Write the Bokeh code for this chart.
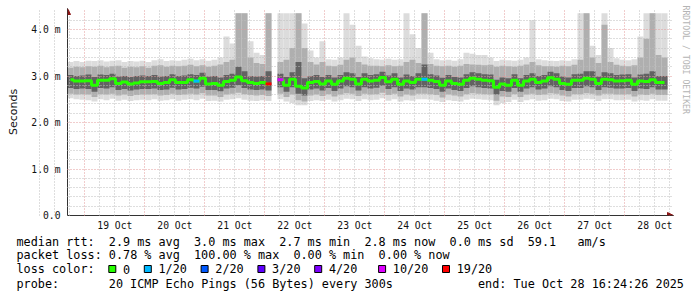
import re
from datetime import datetime, timedelta

from bokeh.plotting import figure
from bokeh.models import (Range1d, FixedTicker, DatetimeTickFormatter, Arrow,
                          NormalHead, Label, Title, ColumnDataSource)
from bokeh.layouts import column
from bokeh.embed import file_html
from bokeh.resources import INLINE

NaN = float("nan")

# ---------------- data ----------------
start = datetime(2025, 10, 18, 17, 4, 48)
bin_hours = 2.4

# median rtt per bin (ms)
med = [
    2.92, 2.89, 2.89, 2.90, 2.80, 2.91, 2.91, 2.94, 2.84, 2.87,
    2.83, 2.85, 2.875, 2.875, 2.88, 2.84, 2.86, 2.92, 2.86, 2.86,
    2.92, 2.89, 2.95, 2.83, 2.84, 2.80, 2.88, 2.91, 2.98, 2.90,
    2.86, 2.84, 2.86, 2.83, NaN, 2.92, 2.80, 2.93, 2.78, 2.74,
    2.86, 2.88, 2.83, 2.89, 2.82, 2.89, 2.95, 2.93, 2.83, 2.93,
    2.89, 2.91, 2.97, 2.875, 2.93, 2.82, 2.89, 2.86, 2.93, 2.93,
    2.91, 2.88, 2.80, 2.89, 2.84, 2.82, 2.91, 2.95, 2.93, 2.91,
    2.90, 2.76, 2.83, 2.80, 2.91, 2.80, 2.89, 2.93, 2.86, 2.89,
    2.96, 2.93, 2.84, 2.82, 2.91, 2.91, 2.95, 2.93, 2.84, 2.93,
    2.92, 2.89, 2.90, 2.91, 2.82, 2.89, 2.88, 2.92, 2.86, 2.86,
]

# lost pings (of 20) per bin
loss = [
    0, 0, 0, 0, 0, 0, 0, 0, 0, 0,
    0, 0, 0, 0, 0, 0, 0, 0, 0, 0,
    0, 1, 0, 0, 0, 0, 0, 0, 0, 0,
    0, 0, 0, 19, 0, 10, 0, 0, 0, 0,
    0, 0, 0, 0, 0, 0, 0, 0, 0, 0,
    0, 0, 0, 0, 0, 0, 0, 0, 0, 1,
    0, 0, 0, 0, 0, 0, 0, 0, 0, 0,
    0, 0, 0, 0, 0, 0, 0, 0, 0, 0,
    0, 0, 0, 0, 0, 0, 0, 0, 0, 0,
    0, 0, 0, 0, 0, 0, 0, 0, 0, 0,
]

# smoke: outer (min / max ping)
smoke_lo1 = [
    2.52, 2.50, 2.49, 2.48, 2.45, 2.50, 2.48, 2.51, 2.47, 2.49,
    2.46, 2.48, 2.49, 2.48, 2.50, 2.47, 2.48, 2.50, 2.47, 2.49,
    2.50, 2.48, 2.51, 2.46, 2.47, 2.45, 2.49, 2.50, 2.52, 2.49,
    2.47, 2.46, 2.48, 2.46, NaN, 2.50, 2.45, 2.42, 2.37, 2.37,
    2.46, 2.48, 2.46, 2.49, 2.45, 2.48, 2.51, 2.50, 2.46, 2.50,
    2.48, 2.49, 2.52, 2.47, 2.50, 2.45, 2.48, 2.47, 2.50, 2.50,
    2.49, 2.47, 2.44, 2.48, 2.46, 2.45, 2.49, 2.51, 2.50, 2.49,
    2.48, 2.37, 2.42, 2.44, 2.49, 2.44, 2.48, 2.50, 2.47, 2.48,
    2.51, 2.50, 2.46, 2.45, 2.49, 2.49, 2.51, 2.50, 2.46, 2.50,
    2.50, 2.48, 2.48, 2.49, 2.45, 2.48, 2.47, 2.50, 2.47, 2.47,
]
smoke_hi1 = [
    3.30, 3.32, 3.30, 3.33, 3.32, 3.34, 3.31, 3.33, 3.34, 3.30,
    3.32, 3.31, 3.33, 3.30, 3.34, 3.36, 3.32, 3.34, 3.33, 3.35,
    3.37, 3.34, 3.36, 3.33, 3.35, 3.40, 3.85, 3.70, 4.35, 4.35,
    3.75, 3.50, 3.45, 4.35, NaN, 4.35, 4.35, 4.35, 4.35, 4.13,
    3.55, 3.40, 3.75, 3.36, 3.35, 3.40, 4.35, 4.10, 3.65, 3.42,
    3.38, 3.36, 3.35, 3.37, 3.35, 3.36, 4.35, 3.90, 3.60, 4.35,
    3.50, 3.36, 3.34, 3.35, 3.33, 3.36, 3.50, 3.48, 3.45, 3.45,
    3.40, 3.32, 3.35, 3.34, 3.33, 3.35, 3.40, 4.20, 3.36, 3.34,
    3.33, 3.32, 3.34, 3.33, 3.36, 4.35, 4.35, 3.65, 3.45, 4.35,
    3.60, 3.38, 3.35, 3.34, 3.36, 3.85, 4.35, 4.35, 4.35, 4.35,
]
# smoke: middle layer
smoke_lo2 = [
    2.62, 2.60, 2.61, 2.60, 2.55, 2.61, 2.60, 2.62, 2.58, 2.60,
    2.57, 2.59, 2.60, 2.60, 2.61, 2.58, 2.59, 2.62, 2.59, 2.60,
    2.62, 2.60, 2.63, 2.58, 2.58, 2.55, 2.60, 2.62, 2.64, 2.61,
    2.59, 2.58, 2.59, 2.57, NaN, 2.62, 2.55, 2.60, 2.48, 2.45,
    2.58, 2.60, 2.57, 2.61, 2.56, 2.60, 2.63, 2.62, 2.57, 2.62,
    2.60, 2.61, 2.64, 2.59, 2.62, 2.56, 2.60, 2.58, 2.62, 2.62,
    2.61, 2.59, 2.54, 2.60, 2.58, 2.56, 2.61, 2.63, 2.62, 2.61,
    2.60, 2.47, 2.56, 2.55, 2.61, 2.55, 2.60, 2.62, 2.59, 2.60,
    2.63, 2.62, 2.58, 2.56, 2.61, 2.61, 2.63, 2.62, 2.58, 2.62,
    2.62, 2.60, 2.60, 2.61, 2.56, 2.60, 2.59, 2.62, 2.59, 2.59,
]
smoke_hi2 = [
    3.18, 3.20, 3.19, 3.21, 3.20, 3.22, 3.19, 3.21, 3.22, 3.18,
    3.20, 3.19, 3.21, 3.18, 3.22, 3.23, 3.20, 3.22, 3.21, 3.22,
    3.24, 3.21, 3.23, 3.20, 3.22, 3.25, 3.30, 3.35, 4.35, 4.35,
    3.40, 3.28, 3.26, 4.35, NaN, 3.30, 3.35, 3.60, 4.35, 3.60,
    3.30, 3.25, 3.30, 3.22, 3.21, 3.24, 3.35, 3.40, 3.30, 3.25,
    3.22, 3.22, 3.21, 3.23, 3.21, 3.22, 3.30, 3.35, 3.28, 4.35,
    3.26, 3.22, 3.21, 3.22, 3.20, 3.22, 3.26, 3.25, 3.24, 3.23,
    3.24, 3.20, 3.22, 3.21, 3.20, 3.22, 3.25, 3.30, 3.23, 3.21,
    3.21, 3.20, 3.22, 3.21, 3.24, 3.35, 4.35, 3.40, 3.28, 4.10,
    3.30, 3.24, 3.22, 3.21, 3.23, 3.40, 3.80, 4.35, 3.45, 3.40,
]
# smoke: dark core
smoke_lo3 = [
    2.74, 2.72, 2.73, 2.72, 2.66, 2.74, 2.73, 2.76, 2.70, 2.72,
    2.69, 2.71, 2.72, 2.72, 2.73, 2.70, 2.71, 2.75, 2.71, 2.72,
    2.75, 2.73, 2.77, 2.70, 2.70, 2.67, 2.73, 2.75, 2.80, 2.74,
    2.71, 2.70, 2.71, 2.69, NaN, 2.76, 2.66, 2.76, 2.62, 2.58,
    2.71, 2.73, 2.69, 2.74, 2.68, 2.73, 2.78, 2.76, 2.69, 2.76,
    2.73, 2.75, 2.79, 2.72, 2.76, 2.68, 2.73, 2.71, 2.76, 2.76,
    2.74, 2.72, 2.66, 2.73, 2.70, 2.68, 2.74, 2.78, 2.76, 2.74,
    2.73, 2.60, 2.68, 2.66, 2.74, 2.66, 2.73, 2.76, 2.71, 2.73,
    2.78, 2.76, 2.70, 2.68, 2.74, 2.74, 2.78, 2.76, 2.70, 2.76,
    2.75, 2.73, 2.73, 2.74, 2.68, 2.73, 2.72, 2.76, 2.71, 2.71,
]
smoke_hi3 = [
    3.02, 3.00, 3.01, 3.03, 2.98, 3.03, 3.02, 3.05, 2.99, 3.00,
    2.98, 3.00, 3.01, 3.00, 3.02, 2.99, 3.00, 3.04, 3.00, 3.01,
    3.04, 3.02, 3.07, 2.99, 3.00, 2.97, 3.02, 3.05, 3.20, 3.10,
    3.00, 2.99, 3.00, 3.10, NaN, 3.05, 2.98, 3.08, 3.30, 2.95,
    3.00, 3.02, 2.98, 3.02, 2.97, 3.02, 3.08, 3.06, 2.98, 3.06,
    3.02, 3.04, 3.09, 3.01, 3.06, 2.97, 3.03, 3.00, 3.06, 3.25,
    3.04, 3.01, 2.96, 3.02, 2.98, 2.97, 3.04, 3.08, 3.06, 3.04,
    3.03, 2.92, 2.97, 2.95, 3.04, 2.95, 3.02, 3.06, 3.00, 3.02,
    3.09, 3.06, 2.99, 2.97, 3.04, 3.05, 3.10, 3.10, 2.99, 3.08,
    3.06, 3.02, 3.03, 3.04, 2.97, 3.03, 3.05, 3.10, 3.00, 3.00,
]

y_ticks = [0, 1, 2, 3, 4]
y_tick_labels = ["0.0", "1.0 m", "2.0 m", "3.0 m", "4.0 m"]
day_label_days = [19, 20, 21, 22, 23, 24, 25, 26, 27, 28]

loss_levels = [0, 1, 2, 3, 4, 10, 19]
loss_legend_labels = ["0", "1/20", "2/20", "3/20", "4/20", "10/20", "19/20"]
loss_colors = ["#26ff00", "#00b8ff", "#0059ff", "#5e00ff", "#7e00ff", "#dd00ff", "#ff0000"]

rtt_avg, rtt_max, rtt_min, rtt_now, rtt_sd, rtt_amps = 2.9, 3.0, 2.7, 2.8, 0.0, 59.1
loss_avg, loss_max, loss_min, loss_now = 0.78, 100.00, 0.00, 0.00
probe_text = "20 ICMP Echo Pings (56 Bytes) every 300s"
end_text = "end: Tue Oct 28 16:24:26 2025"
watermark = "RRDTOOL / TOBI OETIKER"

# ---------------- helpers / layout ----------------
EPOCH = datetime(1970, 1, 1)


def ms(dt):
    return (dt - EPOCH).total_seconds() * 1000.0


PX_PER_DAY = 60.0
PX_PER_MS = 46.5
FRAME_LEFT, FRAME_RIGHT, FRAME_TOP, FRAME_BOTTOM = 67, 673, 8, 215
MAIN_H = 234
Y_TOP = (FRAME_BOTTOM - FRAME_TOP) / PX_PER_MS
t0 = start
t_end = start + timedelta(days=(FRAME_RIGHT - FRAME_LEFT) / PX_PER_DAY)


def px_to_x(px):
    return ms(t0 + timedelta(days=(px - FRAME_LEFT) / PX_PER_DAY))


def py_to_y(py):
    return (FRAME_BOTTOM - py) / PX_PER_MS


n = len(med)
step = timedelta(hours=bin_hours)
lefts = [start + i * step for i in range(n)]
rights = [l + step for l in lefts]
centers = [l + step / 2 for l in lefts]

AXIS_C = "#333333"
ARROW_C = "#8b1414"
MONO = "DejaVu Sans Mono"

# ---------------- main plot ----------------
p = figure(width=697, height=MAIN_H, x_axis_type="datetime",
           x_range=Range1d(t0, t_end), y_range=Range1d(0, Y_TOP),
           toolbar_location=None, output_backend="svg",
           min_border_left=FRAME_LEFT, min_border_right=697 - FRAME_RIGHT,
           min_border_top=FRAME_TOP, min_border_bottom=MAIN_H - FRAME_BOTTOM)
p.background_fill_color = "white"
p.border_fill_color = "white"
p.outline_line_color = None

src = ColumnDataSource(dict(left=lefts, right=rights, center=centers, med=med,
                            lo1=smoke_lo1, hi1=smoke_hi1, lo2=smoke_lo2,
                            hi2=smoke_hi2, lo3=smoke_lo3, hi3=smoke_hi3))
p.quad(left="left", right="right", bottom="lo1", top="hi1", source=src,
       fill_color="#dcdcdc", line_color=None)
p.quad(left="left", right="right", bottom="lo2", top="hi2", source=src,
       fill_color="#afafaf", line_color=None)
p.quad(left="left", right="right", bottom="lo3", top="hi3", source=src,
       fill_color="#626262", line_color=None)

med_line = p.step(x="center", y="med", source=src, mode="center",
                  line_color=loss_colors[0], line_width=3)
med_line.level = "overlay"

lossy = [i for i in range(n) if loss[i] > 0]
col_of = dict(zip(loss_levels, loss_colors))
seg = p.segment(x0=[lefts[i] for i in lossy], x1=[rights[i] for i in lossy],
                y0=[med[i] for i in lossy], y1=[med[i] for i in lossy],
                line_color=[col_of[loss[i]] for i in lossy], line_width=3)
seg.level = "overlay"

# axes
p.xaxis.ticker = FixedTicker(ticks=[ms(datetime(2025, 10, d, 12)) for d in day_label_days])
fmt = "%d %b"
p.xaxis.formatter = DatetimeTickFormatter(hours=fmt, days=fmt, months=fmt, hourmin=fmt,
                                          minutes=fmt, minsec=fmt, seconds=fmt, years=fmt)
p.yaxis.ticker = FixedTicker(ticks=y_ticks)
p.yaxis.major_label_overrides = dict(zip(y_ticks, y_tick_labels))
for ax in (p.xaxis, p.yaxis):
    ax.axis_line_color = AXIS_C
    ax.major_tick_in = 0
    ax.major_tick_out = 0
    ax.minor_tick_in = 0
    ax.minor_tick_out = 0
    ax.major_label_text_font = MONO
    ax.major_label_text_font_size = "9.7px"
    ax.major_label_text_color = "#111111"
p.xaxis.major_label_standoff = 4
p.yaxis.major_label_standoff = 7
p.yaxis.axis_label = "Seconds"
p.yaxis.axis_label_text_font = "DejaVu Sans"
p.yaxis.axis_label_text_font_style = "normal"
p.yaxis.axis_label_text_font_size = "11px"
p.yaxis.axis_label_text_color = "#111111"
p.yaxis.axis_label_standoff = 8

# grids (drawn over the smoke, like rrdtool)
midnights = [ms(datetime(2025, 10, d)) for d in range(19, 29)]
six_h = []
for d in range(18, 29):
    for h in (6, 12, 18):
        six_h.append(ms(datetime(2025, 10, d, h)))
p.xgrid.ticker = FixedTicker(ticks=midnights, minor_ticks=six_h)
p.ygrid.ticker = FixedTicker(ticks=[1, 2, 3, 4],
                             minor_ticks=[round(0.2 * k, 1) for k in range(1, 22) if k % 5])
for g in (p.xgrid, p.ygrid):
    g.grid_line_color = "#e29a9a"
    g.grid_line_dash = "1 2"
    g.grid_line_width = 1
    g.minor_grid_line_color = "#bdbdbd"
    g.minor_grid_line_dash = "1 2"
    g.minor_grid_line_width = 1
    g.level = "guide"

# axis arrows (inside the frame edges)
p.add_layout(Arrow(end=NormalHead(size=6, fill_color=ARROW_C, line_color=ARROW_C),
                   x_start=ms(t0), y_start=py_to_y(30), x_end=ms(t0), y_end=py_to_y(FRAME_TOP),
                   line_color=AXIS_C, line_width=1))
p.add_layout(Arrow(end=NormalHead(size=6, fill_color=ARROW_C, line_color=ARROW_C),
                   x_start=px_to_x(650), y_start=0, x_end=px_to_x(FRAME_RIGHT), y_end=0,
                   line_color=AXIS_C, line_width=1))

p.add_layout(Title(text=watermark, align="left", vertical_align="top", offset=-3,
                   standoff=10, text_font=MONO, text_font_size="8.2px",
                   text_font_style="normal", text_color="#b4b4b4"), "right")

# ---------------- legend block ----------------
LEG_H = 297 - MAIN_H
q = figure(width=697, height=LEG_H, x_range=Range1d(0, 697),
           y_range=Range1d(LEG_H, 0), toolbar_location=None, output_backend="svg",
           min_border=0, x_axis_location=None, y_axis_location=None)
if "frame_align" in q.properties():
    q.frame_align = False
    p.frame_align = False
q.grid.visible = False
q.outline_line_color = None
q.background_fill_color = "white"
q.border_fill_color = "white"

CW = 7.1
X0 = 16
FS = "11.8px"

line1 = ("median rtt:  %.1f ms avg  %.1f ms max  %.1f ms min  %.1f ms now  %.1f ms sd  %.1f   am/s"
         % (rtt_avg, rtt_max, rtt_min, rtt_now, rtt_sd, rtt_amps))
line2 = ("packet loss: %.2f %% avg  %.2f %% max  %.2f %% min  %.2f %% now"
         % (loss_avg, loss_max, loss_min, loss_now))
sq_chars = [13, 18, 26, 34, 42, 51, 60]
chars = list("loss color:".ljust(70))
for c, lab in zip(sq_chars, loss_legend_labels):
    for j, ch in enumerate(lab):
        chars[c + 2 + j] = ch
line3 = "".join(chars).rstrip()
line4 = ("probe:".ljust(13) + probe_text).ljust(65) + end_text

rows_y = [7, 20.5, 34.5, 49]
for line, ry in zip([line1, line2, line3, line4], rows_y):
    for m in re.finditer(r"\S+(?: \S+)*", line):
        q.add_layout(Label(x=X0 + m.start() * CW, y=ry, text=m.group(0),
                           text_font=MONO, text_font_size=FS, text_baseline="middle",
                           text_align="left", text_color="#000000"))
q.rect(x=[X0 + c * CW + 3.5 for c in sq_chars], y=[rows_y[2]] * len(sq_chars),
       width=7, height=7, fill_color=loss_colors, line_color="#000000", line_width=1)

layout = column(p, q, spacing=0)
open("out.html", "w").write(file_html(layout, INLINE))
